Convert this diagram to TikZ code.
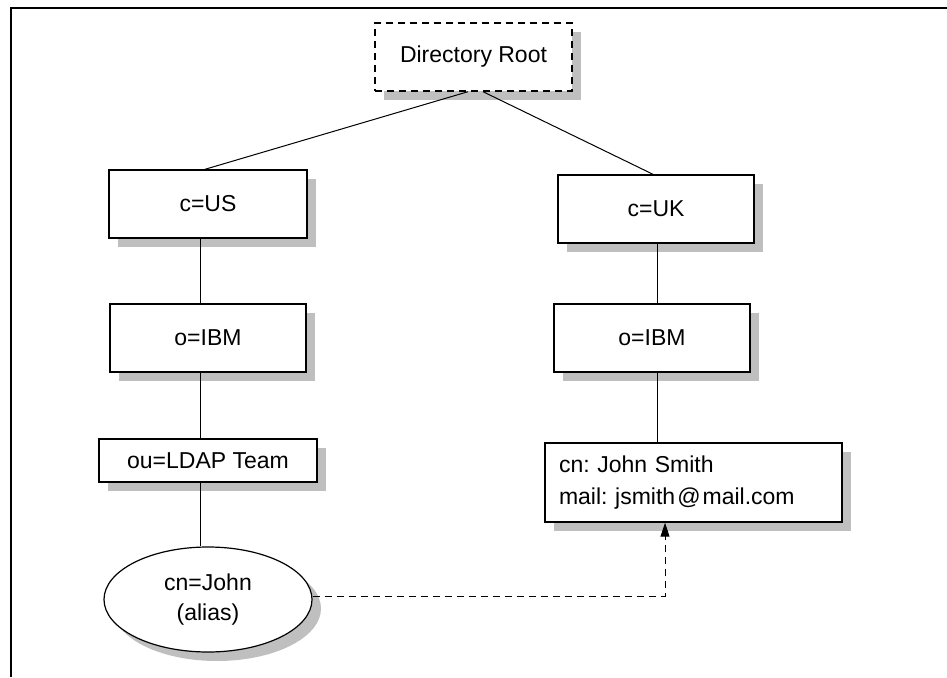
\documentclass[tikz,border=0pt]{standalone}
\usepackage{fontspec}
\setmainfont{Liberation Sans}
\usetikzlibrary{shapes.geometric,shadows,arrows.meta}
\begin{document}
\frenchspacing
\begin{tikzpicture}[x=1pt,y=-1pt,
  font=\fontsize{23}{31}\selectfont,
  shad/.style={drop shadow={shadow xshift=9pt,shadow yshift=-9pt,fill=black!25,opacity=1}},
  box/.style={draw,line width=1.4pt,fill=white,shad,minimum width=196pt,minimum height=68pt,inner sep=0pt},
  conn/.style={line width=1pt},
  dconn/.style={line width=1pt,dash pattern=on 7pt off 5pt}]
\useasboundingbox (0,0) rectangle (947,677);
\draw[line width=1.3pt] (11,677) -- (11,8) -- (947,8);
\node[box,dash pattern=on 7pt off 5pt,minimum width=197pt] (root) at (473.5,57) {Directory Root};
\node[box,minimum width=198pt] (us) at (208,204) {c=US};
\node[box] (uk) at (656,209) {c=UK};
\node[box] (ibmL) at (208,338) {o=IBM};
\node[box] (ibmR) at (652,338) {o=IBM};
\node[box,minimum width=218pt,minimum height=43pt] (ldap) at (208,460.5) {ou=LDAP Team};
\node[box,minimum width=297pt,minimum height=79pt,align=left,text width=269pt,inner xsep=14pt,font=\fontsize{23}{32}\selectfont] (smith) at (693.5,482.5) {\raisebox{-4pt}{cn: John Smith}\\\raisebox{-4pt}{mail: jsmith\kern2pt@\kern2pt mail.com}};
\node[ellipse,draw,line width=1.2pt,fill=white,shad,minimum width=208pt,minimum height=105pt,inner sep=0pt,align=center,font=\fontsize{23}{30}\selectfont] (alias) at (208,599.5) {cn=John\\(alias)};
\draw[conn] ([xshift=-5.5pt]root.south) -- ([xshift=-3pt]us.north);
\draw[conn] ([xshift=9.5pt]root.south) -- ([xshift=-3pt]uk.north);
\draw[conn] ([xshift=-8pt]us.south) -- ([xshift=-8pt]ibmL.north);
\draw[conn] ([xshift=-8pt]ibmL.south) -- ([xshift=-8pt]ldap.north);
\draw[conn] ([xshift=-8pt]ldap.south) -- ([xshift=-8pt]alias.north);
\draw[conn] ([xshift=1pt]uk.south) -- ([xshift=5pt]ibmR.north);
\draw[conn] ([xshift=5pt]ibmR.south) -- ([xshift=-36.5pt]smith.north);
\draw[dconn,-{Triangle[length=14pt,width=9pt]}] ([yshift=3.5pt]alias.east) -| ([xshift=-28.5pt]smith.south);
\end{tikzpicture}
\end{document}
